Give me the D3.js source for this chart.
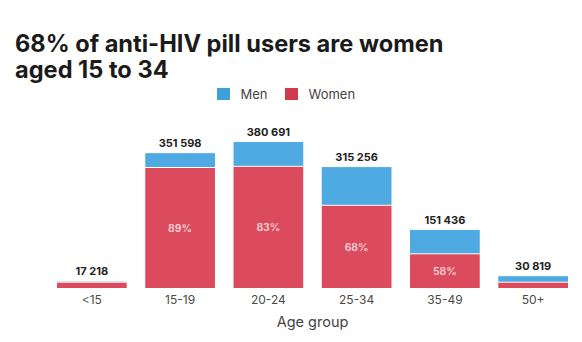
<!DOCTYPE html>
<html>
<head>
<meta charset="utf-8">
<script src="https://cdn.jsdelivr.net/npm/d3@7"></script>
<style>
  html, body { margin: 0; padding: 0; background: #fff; }
  svg { display: block; font-family: Inter, "Noto Sans", sans-serif; }
</style>
</head>
<body>
<svg id="chart" width="582" height="342"></svg>
<script>
// Age groups and PrEP users per group
const ageGroups = ["<15", "15-19", "20-24", "25-34", "35-49", "50+"];
const totals = [17218, 351598, 380691, 315256, 151436, 30819];
// Share of women in each group (percent)
const womenShare = [80, 89, 83, 68, 58, 45];
// Which groups print their women share inside the bar
const showShare = [false, true, true, true, true, false];

const titleLines = ["68% of anti-HIV pill users are women", "aged 15 to 34"];
const legendLabels = ["Men", "Women"];
const axisTitle = "Age group";

const colors = { men: "#4eaae1", women: "#dc4b5d", menKey: "#3f9fd9", womenKey: "#cf3a4f" };

const rows = ageGroups.map((g, i) => {
  const women = Math.round(totals[i] * womenShare[i] / 100);
  return { group: g, total: totals[i], women, men: totals[i] - women, share: womenShare[i], show: showShare[i] };
});

const svg = d3.select("#chart");
const plot = { left: 57, right: 568, baseline: 288, top: 142 };

const x = d3.scaleBand()
  .domain(ageGroups)
  .range([plot.left, plot.right])
  .paddingInner(0.21)
  .paddingOuter(0);

const y = d3.scaleLinear()
  .domain([0, d3.max(totals)])
  .range([plot.baseline, plot.top]);

// Title, two lines
svg.append("g").selectAll("text")
  .data(titleLines)
  .join("text")
  .attr("x", 15)
  .attr("y", (d, i) => 52 + i * 26)
  .attr("font-size", 23.6)
  .attr("font-weight", 700)
  .attr("fill", "#1b1b1b")
  .text(d => d);

// Legend
const legend = svg.append("g").attr("transform", "translate(217,88)");
const legendX = [0, 68];
legendLabels.forEach((lab, i) => {
  const g = legend.append("g").attr("transform", `translate(${legendX[i]},0)`);
  g.append("rect").attr("width", 13).attr("height", 12)
    .attr("fill", i === 0 ? colors.menKey : colors.womenKey);
  g.append("text").attr("x", 23.5).attr("y", 10.5)
    .attr("font-size", 13).attr("fill", "#444").text(lab);
});

// Stacked bars: women at the bottom, men on top, with a thin white seam
const bars = svg.append("g");
const gap = 1;
rows.forEach(d => {
  const bx = x(d.group), bw = x.bandwidth();
  const yW = y(d.women);
  const yT = y(d.total);
  bars.append("rect")
    .attr("x", bx).attr("width", bw)
    .attr("y", yW).attr("height", plot.baseline - yW)
    .attr("fill", colors.women);
  bars.append("rect")
    .attr("x", bx).attr("width", bw)
    .attr("y", yT).attr("height", Math.max(0, yW - yT - gap))
    .attr("fill", colors.men);

  // Total label above the bar
  svg.append("text")
    .attr("x", bx + bw / 2).attr("y", yT - 6)
    .attr("text-anchor", "middle")
    .attr("font-size", 11).attr("font-weight", 700)
    .attr("fill", "#222")
    .text(d3.format(",")(d.total).replace(/,/g, " "));

  // Women share inside the red segment
  if (d.show) {
    svg.append("text")
      .attr("x", bx + bw / 2)
      .attr("y", (yW + plot.baseline) / 2)
      .attr("dy", "0.35em")
      .attr("text-anchor", "middle")
      .attr("font-size", 10.5).attr("font-weight", 600)
      .attr("fill", "#f6d3d8")
      .text(d.share + "%");
  }
});

// Category axis
const axis = svg.append("g")
  .attr("transform", `translate(0,${plot.baseline})`)
  .call(d3.axisBottom(x).tickSize(0).tickPadding(7));
axis.select(".domain").remove();
axis.selectAll("text")
  .attr("font-family", "Inter, sans-serif")
  .attr("font-size", 12)
  .attr("fill", "#4a4a4a");

svg.append("text")
  .attr("x", (plot.left + plot.right) / 2)
  .attr("y", 327)
  .attr("text-anchor", "middle")
  .attr("font-size", 14.5)
  .attr("fill", "#444")
  .text(axisTitle);
</script>
</body>
</html>
